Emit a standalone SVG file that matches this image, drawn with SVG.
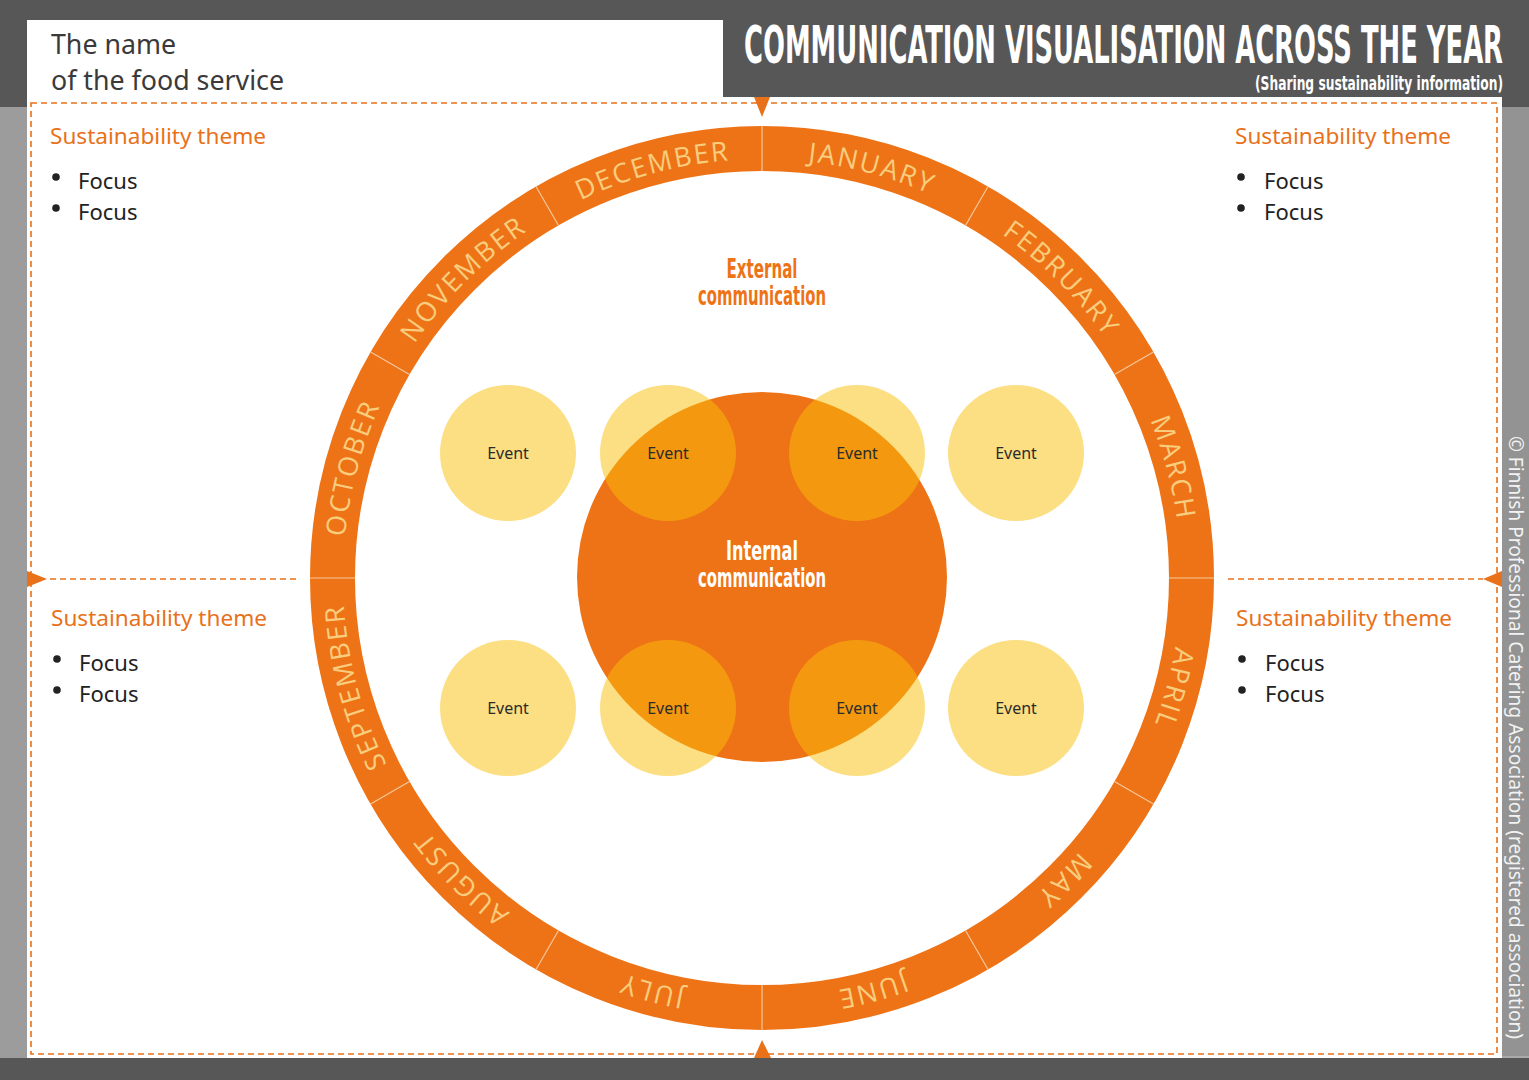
<svg xmlns="http://www.w3.org/2000/svg" width="1529" height="1080" viewBox="0 0 1529 1080">
<defs>
<style>
.theme{font-family:"Noto Sans","Open Sans",sans-serif;font-size:22px;fill:#E8711A}
.focus{font-family:"Noto Sans","Open Sans",sans-serif;font-size:22px;fill:#222}
.bullet{fill:#222}
.month{font-family:"Open Sans","Noto Sans",sans-serif;font-size:27px;fill:#F8CD7E;letter-spacing:2px}
.ev{fill:#F9BF07;opacity:0.5}
.evt{font-family:"Noto Sans","Open Sans",sans-serif;font-size:16px;fill:#2b2b2b;text-anchor:middle}
.cond{font-family:"Liberation Sans Narrow","DejaVu Sans Condensed","DejaVu Sans",sans-serif;font-weight:bold;font-stretch:condensed}
.dash{fill:none;stroke:#E8711A;stroke-width:1.6;stroke-dasharray:6 4}
.arrow{fill:#E8711A}
.sep{stroke:#F6C79A;stroke-width:1.2}
</style>
<path id="ringpath" d="M762,159 A419,419 0 1 1 762,997 A419,419 0 1 1 762,159"/>
</defs>

<!-- background -->
<rect x="0" y="0" width="1529" height="1080" fill="#575757"/>
<rect x="0" y="107" width="27" height="951" fill="#9C9C9C"/>
<rect x="1502" y="107" width="27" height="951" fill="#939393"/>
<rect x="27" y="97" width="1475" height="961" fill="#ffffff"/>
<rect x="1502" y="1056" width="27" height="2" fill="#aaaaaa"/>

<g id="name-box">
<rect x="27" y="20" width="696" height="80" fill="#ffffff"/>
<text x="51" y="54" font-family="Noto Sans,Open Sans,sans-serif" font-size="28" fill="#3a3a3a" textLength="125" lengthAdjust="spacingAndGlyphs">The name</text>
<text x="51" y="90" font-family="Noto Sans,Open Sans,sans-serif" font-size="28" fill="#3a3a3a" textLength="233" lengthAdjust="spacingAndGlyphs">of the food service</text>
</g>

<g id="title">
<text class="cond" x="1503" y="63" font-size="52" fill="#ffffff" text-anchor="end" textLength="759" lengthAdjust="spacingAndGlyphs">COMMUNICATION VISUALISATION ACROSS THE YEAR</text>
<text class="cond" x="1503" y="90" font-size="20" fill="#ffffff" text-anchor="end" textLength="248" lengthAdjust="spacingAndGlyphs">(Sharing sustainability information)</text>
</g>

<g id="connectors">
<rect class="dash" x="31" y="103" width="1466" height="951"/>
<line class="dash" x1="50" y1="579" x2="300" y2="579"/>
<line class="dash" x1="1228" y1="579" x2="1483" y2="579"/>
<polygon class="arrow" points="754,97 770,97 762,117"/>
<polygon class="arrow" points="754,1058 771,1058 762,1040"/>
<polygon class="arrow" points="27,571 27,587 47,579"/>
<polygon class="arrow" points="1502,571 1502,587 1483,579"/>
</g>

<g id="year-ring">
<circle cx="762" cy="578" r="429.5" fill="none" stroke="#EE7316" stroke-width="45"/>
<g transform="translate(762,578)">
<line class="sep" x1="0" y1="-407" x2="0" y2="-452" transform="rotate(0)"/>
<line class="sep" x1="0" y1="-407" x2="0" y2="-452" transform="rotate(30)"/>
<line class="sep" x1="0" y1="-407" x2="0" y2="-452" transform="rotate(60)"/>
<line class="sep" x1="0" y1="-407" x2="0" y2="-452" transform="rotate(90)"/>
<line class="sep" x1="0" y1="-407" x2="0" y2="-452" transform="rotate(120)"/>
<line class="sep" x1="0" y1="-407" x2="0" y2="-452" transform="rotate(150)"/>
<line class="sep" x1="0" y1="-407" x2="0" y2="-452" transform="rotate(180)"/>
<line class="sep" x1="0" y1="-407" x2="0" y2="-452" transform="rotate(210)"/>
<line class="sep" x1="0" y1="-407" x2="0" y2="-452" transform="rotate(240)"/>
<line class="sep" x1="0" y1="-407" x2="0" y2="-452" transform="rotate(270)"/>
<line class="sep" x1="0" y1="-407" x2="0" y2="-452" transform="rotate(300)"/>
<line class="sep" x1="0" y1="-407" x2="0" y2="-452" transform="rotate(330)"/>
</g>
<text class="month" text-anchor="middle"><textPath href="#ringpath" startOffset="4.1667%">JANUARY</textPath></text>
<text class="month" text-anchor="middle"><textPath href="#ringpath" startOffset="12.5%">FEBRUARY</textPath></text>
<text class="month" text-anchor="middle"><textPath href="#ringpath" startOffset="20.833%">MARCH</textPath></text>
<text class="month" text-anchor="middle"><textPath href="#ringpath" startOffset="29.1667%">APRIL</textPath></text>
<text class="month" text-anchor="middle"><textPath href="#ringpath" startOffset="37.5%">MAY</textPath></text>
<text class="month" text-anchor="middle"><textPath href="#ringpath" startOffset="45.833%">JUNE</textPath></text>
<text class="month" text-anchor="middle"><textPath href="#ringpath" startOffset="54.1667%">JULY</textPath></text>
<text class="month" text-anchor="middle"><textPath href="#ringpath" startOffset="62.5%">AUGUST</textPath></text>
<text class="month" text-anchor="middle"><textPath href="#ringpath" startOffset="70.833%">SEPTEMBER</textPath></text>
<text class="month" text-anchor="middle"><textPath href="#ringpath" startOffset="79.1667%">OCTOBER</textPath></text>
<text class="month" text-anchor="middle"><textPath href="#ringpath" startOffset="87.5%">NOVEMBER</textPath></text>
<text class="month" text-anchor="middle"><textPath href="#ringpath" startOffset="95.833%">DECEMBER</textPath></text>
</g>

<g id="external-communication">
<text class="cond" x="762" y="278" font-size="26" fill="#EE7316" text-anchor="middle" textLength="71" lengthAdjust="spacingAndGlyphs">External</text>
<text class="cond" x="762" y="305" font-size="26" fill="#EE7316" text-anchor="middle" textLength="128" lengthAdjust="spacingAndGlyphs">communication</text>
</g>

<g id="internal-communication">
<circle cx="762" cy="577" r="185" fill="#EE7316"/>
<text class="cond" x="762" y="560" font-size="26" fill="#ffffff" text-anchor="middle" textLength="72" lengthAdjust="spacingAndGlyphs">Internal</text>
<text class="cond" x="762" y="587" font-size="26" fill="#ffffff" text-anchor="middle" textLength="128" lengthAdjust="spacingAndGlyphs">communication</text>
</g>

<g id="event-1"><circle class="ev" cx="508" cy="453" r="68"/><text class="evt" x="508" y="459">Event</text></g>
<g id="event-2"><circle class="ev" cx="668" cy="453" r="68"/><text class="evt" x="668" y="459">Event</text></g>
<g id="event-3"><circle class="ev" cx="857" cy="453" r="68"/><text class="evt" x="857" y="459">Event</text></g>
<g id="event-4"><circle class="ev" cx="1016" cy="453" r="68"/><text class="evt" x="1016" y="459">Event</text></g>
<g id="event-5"><circle class="ev" cx="508" cy="708" r="68"/><text class="evt" x="508" y="714">Event</text></g>
<g id="event-6"><circle class="ev" cx="668" cy="708" r="68"/><text class="evt" x="668" y="714">Event</text></g>
<g id="event-7"><circle class="ev" cx="857" cy="708" r="68"/><text class="evt" x="857" y="714">Event</text></g>
<g id="event-8"><circle class="ev" cx="1016" cy="708" r="68"/><text class="evt" x="1016" y="714">Event</text></g>

<g id="theme-top-left">
<text class="theme" x="50" y="144" textLength="216" lengthAdjust="spacingAndGlyphs">Sustainability theme</text>
<circle class="bullet" cx="56" cy="177" r="3.8"/><text class="focus" x="78" y="189">Focus</text>
<circle class="bullet" cx="56" cy="208" r="3.8"/><text class="focus" x="78" y="220">Focus</text>
</g>
<g id="theme-top-right">
<text class="theme" x="1235" y="144" textLength="216" lengthAdjust="spacingAndGlyphs">Sustainability theme</text>
<circle class="bullet" cx="1241" cy="177" r="3.8"/><text class="focus" x="1264" y="189">Focus</text>
<circle class="bullet" cx="1241" cy="208" r="3.8"/><text class="focus" x="1264" y="220">Focus</text>
</g>
<g id="theme-bottom-left">
<text class="theme" x="51" y="626" textLength="216" lengthAdjust="spacingAndGlyphs">Sustainability theme</text>
<circle class="bullet" cx="57" cy="659" r="3.8"/><text class="focus" x="79" y="671">Focus</text>
<circle class="bullet" cx="57" cy="690" r="3.8"/><text class="focus" x="79" y="702">Focus</text>
</g>
<g id="theme-bottom-right">
<text class="theme" x="1236" y="626" textLength="216" lengthAdjust="spacingAndGlyphs">Sustainability theme</text>
<circle class="bullet" cx="1242" cy="659" r="3.8"/><text class="focus" x="1265" y="671">Focus</text>
<circle class="bullet" cx="1242" cy="690" r="3.8"/><text class="focus" x="1265" y="702">Focus</text>
</g>

<g id="copyright">
<text transform="translate(1509,436) rotate(90)" x="0" y="0" font-family="Noto Sans,Open Sans,sans-serif" font-size="19" fill="#f2f2f2" textLength="603" lengthAdjust="spacingAndGlyphs">© Finnish Professional Catering Association (registered association)</text>
</g>
</svg>
